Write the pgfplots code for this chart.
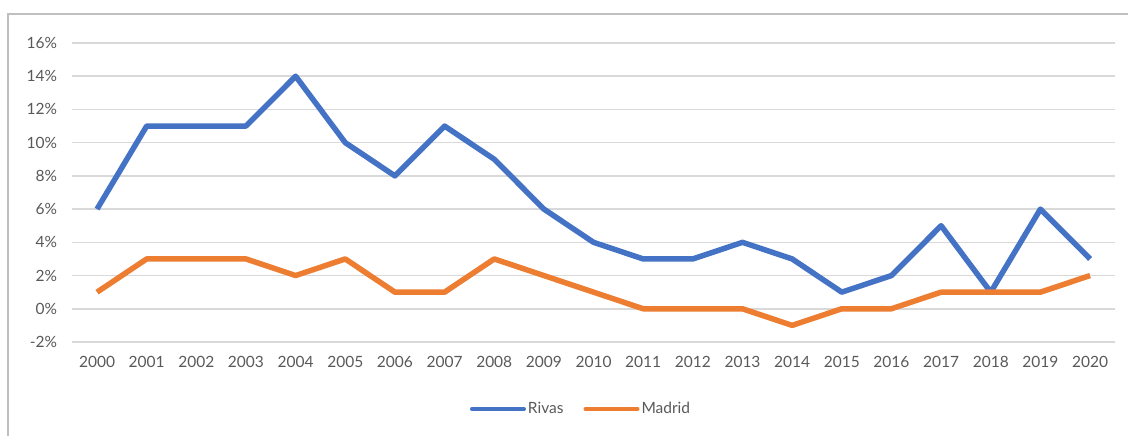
\documentclass[border=0pt]{standalone}
\usepackage{pgfplots}
\pgfplotsset{compat=1.18}
\usepackage{fontspec}
\setmainfont{Lato}
\definecolor{rivas}{HTML}{4472C4}
\definecolor{madrid}{HTML}{ED7D31}
\definecolor{gridc}{HTML}{D9D9D9}
\definecolor{txt}{HTML}{595959}
\begin{document}
\begin{tikzpicture}[x=1pt,y=1pt]
\path[use as bounding box] (0,0) rectangle (1128,436);
\draw[color=black!25, line width=1.2pt] (8,0) -- (8,422) -- (1128,422);
\begin{axis}[
  at={(72.2pt,94pt)}, anchor=south west,
  scale only axis, width=1042.7pt, height=299pt,
  xmin=1999.5, xmax=2020.5, ymin=-2, ymax=16,
  axis line style={draw=none},
  tick style={draw=none},
  ytick={-2,0,2,4,6,8,10,12,14,16},
  yticklabels={-2\%,0\%,2\%,4\%,6\%,8\%,10\%,12\%,14\%,16\%},
  xtick={2000,2001,...,2020},
  xticklabels={2000,2001,2002,2003,2004,2005,2006,2007,2008,2009,2010,2011,2012,2013,2014,2015,2016,2017,2018,2019,2020},
  ymajorgrids, major grid style={gridc, line width=1.5pt},
  ticklabel style={font=\fontsize{15.5}{17}\selectfont, text=txt, inner sep=0pt},
  yticklabel style={anchor=east, xshift=-15pt},
  xticklabel style={anchor=north, yshift=-14pt},
  legend columns=2,
  legend style={at={(0.488,-0.224)}, anchor=center, draw=none, fill=none,
    font=\fontsize{15.5}{17}\selectfont, text=txt,
    /tikz/every even column/.append style={column sep=18pt}},
  legend image code/.code={\draw[#1, line width=4pt, line cap=round] (0pt,0pt) -- (52pt,0pt);},
  clip=false,
]
\addplot[rivas, line width=5.5pt, line join=round] coordinates {
(2000,6) (2001,11) (2002,11) (2003,11) (2004,14) (2005,10) (2006,8) (2007,11) (2008,9) (2009,6) (2010,4) (2011,3) (2012,3) (2013,4) (2014,3) (2015,1) (2016,2) (2017,5) (2018,1) (2019,6) (2020,3)};
\addlegendentry{Rivas}
\addplot[madrid, line width=5.5pt, line join=round] coordinates {
(2000,1) (2001,3) (2002,3) (2003,3) (2004,2) (2005,3) (2006,1) (2007,1) (2008,3) (2009,2) (2010,1) (2011,0) (2012,0) (2013,0) (2014,-1) (2015,0) (2016,0) (2017,1) (2018,1) (2019,1) (2020,2)};
\addlegendentry{Madrid}
\end{axis}
\end{tikzpicture}
\end{document}
